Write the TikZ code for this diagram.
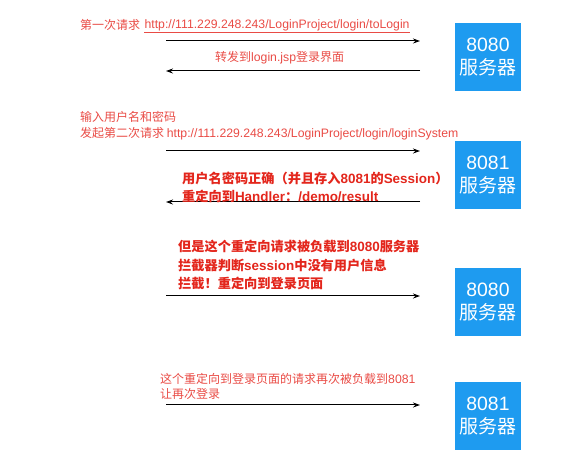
\documentclass[tikz,border=0pt]{standalone}
\usepackage{fontspec}
\setmainfont{Noto Sans CJK SC}
\newfontfamily\lat[Scale=1.02]{Liberation Sans}
\usepackage{xcolor}
\usetikzlibrary{positioning, arrows.meta}

\definecolor{msgred}{HTML}{E94B45}
\definecolor{boldred}{HTML}{E3261C}
\definecolor{srvblue}{HTML}{1E9BF0}

\begin{document}
\begin{tikzpicture}[x=1pt,y=-1pt,>={Stealth[length=7pt,width=5pt]},
    msg/.style={anchor=west,inner sep=0pt,text=msgred,font=\fontsize{12}{14}\selectfont},
    bmsg/.style={anchor=west,inner sep=0pt,text=boldred,font=\fontsize{13.2}{15}\selectfont\bfseries},
    server/.style={fill=srvblue,text=white,minimum width=66pt,minimum height=68pt,inner sep=0pt,align=center,
        font=\fontsize{19}{23}\selectfont},
    call/.style={->,line width=1pt}]
    \useasboundingbox (0,0) rectangle (571,454);

    % servers
    \node[server] (s1) at (488,57) {{\lat 8080}\\服务器};
    \node[server] (s2) at (488,175) {{\lat 8081}\\服务器};
    \node[server] (s3) at (488,302) {{\lat 8080}\\服务器};
    \node[server] (s4) at (488,416) {{\lat 8081}\\服务器};

    % arrow ends
    \coordinate (a1l) at (166,41);  \coordinate (a1r) at (420,41);
    \coordinate (a2l) at (166,71);  \coordinate (a2r) at (420,71);
    \coordinate (a3l) at (166,151); \coordinate (a3r) at (420,151);
    \coordinate (a4l) at (166,202); \coordinate (a4r) at (420,202);
    \coordinate (a5l) at (166,296); \coordinate (a5r) at (420,296);
    \coordinate (a6l) at (166,405); \coordinate (a6r) at (420,405);

    \draw[call] (a1l) -- (a1r);
    \draw[call] (a2r) -- (a2l);
    \draw[call] (a3l) -- (a3r);
    \draw[call] (a4r) -- (a4l);
    \draw[call] (a5l) -- (a5r);
    \draw[call] (a6l) -- (a6r);

    % first request
    \node[msg] (m1) at (80,25) {第一次请求};
    \node[msg,right=4pt of m1,font=\fontsize{12}{14}\lat] (url1) {http://111.229.248.243/LoginProject/login/toLogin};
    \draw[msgred,line width=0.6pt] ([yshift=-1.5pt]url1.south west) -- ([yshift=-1.5pt]url1.south east);
    \node[msg] (m2) at (215,58) {转发到{\lat login.jsp}登录界面};

    % second request
    \node[msg] (m3) at (80,117) {输入用户名和密码};
    \node[msg] (m4) at (80,134) {发起第二次请求 {\lat http://111.229.248.243/LoginProject/login/loginSystem}};
    \node[bmsg] (m5) at (182,178) {用户名密码正确（并且存入{\lat 8081}的{\lat Session}）};
    \node[bmsg] (m6) at (182,196) {重定向到{\lat Handler}：{\lat /demo/result}};

    % redirect
    \node[bmsg] (m7) at (178,246) {但是这个重定向请求被负载到{\lat 8080}服务器};
    \node[bmsg] (m8) at (178,265) {拦截器判断{\lat session}中没有用户信息};
    \node[bmsg] (m9) at (178,283) {拦截！重定向到登录页面};

    % login again
    \node[msg] (m10) at (160,379) {这个重定向到登录页面的请求再次被负载到{\lat 8081}};
    \node[msg] (m11) at (160,394) {让再次登录};
\end{tikzpicture}
\end{document}
